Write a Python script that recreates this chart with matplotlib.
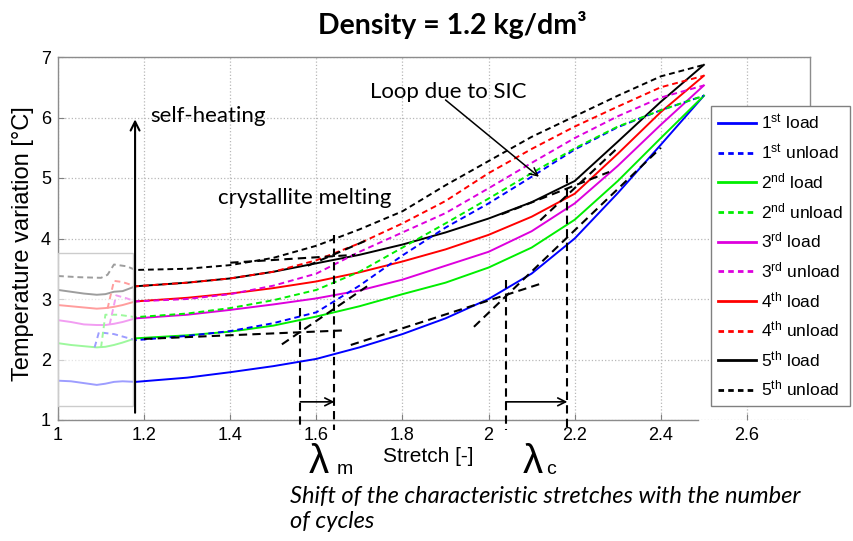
import numpy as np
import matplotlib
matplotlib.use("Agg")
import matplotlib.pyplot as plt
from matplotlib.patches import Rectangle
from matplotlib.lines import Line2D

plt.rcParams['font.family'] = ['Liberation Sans', 'DejaVu Sans']
plt.rcParams['mathtext.fontset'] = 'custom'
plt.rcParams['mathtext.rm'] = 'Liberation Sans'
plt.rcParams['mathtext.it'] = 'Liberation Sans:italic'

# ---------------- data ----------------
stretch_pre = [1.00, 1.03, 1.06, 1.09, 1.11, 1.13, 1.15]
stretch = [1.18, 1.3, 1.4, 1.5, 1.6, 1.7, 1.8, 1.9, 2.0, 2.1, 2.2, 2.3, 2.4, 2.5]

load1_pre = [1.65, 1.64, 1.61, 1.58, 1.60, 1.63, 1.64]
load2_pre = [2.27, 2.24, 2.22, 2.20, 2.21, 2.24, 2.28]
load3_pre = [2.65, 2.62, 2.58, 2.57, 2.57, 2.59, 2.62]
load4_pre = [2.90, 2.88, 2.86, 2.84, 2.85, 2.87, 2.90]
load5_pre = [3.15, 3.12, 3.09, 3.07, 3.08, 3.12, 3.13]

load1 = [1.63, 1.70, 1.79, 1.89, 2.01, 2.20, 2.42, 2.68, 3.00, 3.42, 4.00, 4.75, 5.55, 6.36]
load2 = [2.35, 2.40, 2.46, 2.56, 2.71, 2.88, 3.08, 3.27, 3.52, 3.85, 4.31, 4.95, 5.66, 6.36]
load3 = [2.68, 2.74, 2.82, 2.91, 3.01, 3.14, 3.32, 3.55, 3.78, 4.12, 4.58, 5.20, 5.88, 6.53]
load4 = [2.96, 3.02, 3.09, 3.18, 3.29, 3.44, 3.62, 3.82, 4.06, 4.36, 4.74, 5.40, 6.09, 6.69]
load5 = [3.21, 3.27, 3.34, 3.45, 3.59, 3.73, 3.90, 4.10, 4.33, 4.60, 4.95, 5.60, 6.26, 6.87]

unload1_pre_x = [1.085, 1.095, 1.13, 1.16]
unload1_pre = [2.20, 2.45, 2.42, 2.36]
unload2_pre_x = [1.10, 1.11, 1.14, 1.16]
unload2_pre = [2.20, 2.74, 2.74, 2.72]
unload3_pre_x = [1.12, 1.135, 1.16]
unload3_pre = [2.58, 3.06, 3.01]
unload4_pre_x = [1.115, 1.13, 1.15]
unload4_pre = [2.84, 3.30, 3.28]
unload5_pre_x = [1.00, 1.05, 1.10, 1.115, 1.13, 1.16]
unload5_pre = [3.38, 3.36, 3.35, 3.40, 3.57, 3.54]

unload1 = [2.32, 2.39, 2.47, 2.60, 2.78, 3.22, 3.72, 4.18, 4.58, 5.02, 5.47, 5.84, 6.12, 6.36]
unload2 = [2.70, 2.76, 2.85, 2.98, 3.15, 3.45, 3.85, 4.25, 4.66, 5.08, 5.49, 5.85, 6.12, 6.36]
unload3 = [2.96, 3.00, 3.08, 3.22, 3.42, 3.78, 4.10, 4.42, 4.83, 5.25, 5.66, 6.02, 6.33, 6.53]
unload4 = [3.21, 3.27, 3.34, 3.45, 3.64, 3.92, 4.25, 4.62, 5.08, 5.48, 5.85, 6.18, 6.50, 6.69]
unload5 = [3.48, 3.50, 3.56, 3.68, 3.88, 4.15, 4.45, 4.88, 5.28, 5.68, 6.02, 6.36, 6.68, 6.87]

cycle_colors = ['#0000ff', '#00ee00', '#dd00dd', '#ff0000', '#000000']
ordinals = ['st', 'nd', 'rd', 'th', 'th']

x_ticks = [1, 1.2, 1.4, 1.6, 1.8, 2, 2.2, 2.4, 2.6]
x_tick_labels = ['1', '1.2', '1.4', '1.6', '1.8', '2', '2.2', '2.4', '2.6']
y_ticks = [1, 2, 3, 4, 5, 6, 7]

# annotation guides (tangent lines and characteristic stretches)
tangents = [((1.20, 2.34), (1.66, 2.48)),
            ((1.52, 2.25), (1.72, 3.22)),
            ((1.40, 3.60), (1.69, 3.73)),
            ((1.58, 3.55), (1.72, 3.98)),
            ((1.68, 2.24), (2.12, 3.25)),
            ((1.966, 2.54), (2.40, 5.50)),
            ((2.03, 4.40), (2.28, 5.10)),
            ((2.12, 4.30), (2.30, 5.50))]
lam_m = [1.563, 1.642]
lam_m_top = [2.85, 4.06]
lam_c = [2.04, 2.183]
lam_c_top = [3.31, 5.05]

# ---------------- figure ----------------
W, H = 854, 541
fig = plt.figure(figsize=(W / 100, H / 100), dpi=100)
ax = fig.add_axes([58 / W, 1 - 420 / H, (810 - 58) / W, (420 - 57) / H])

loads = [(load1_pre, load1), (load2_pre, load2), (load3_pre, load3),
         (load4_pre, load4), (load5_pre, load5)]
unloads = [(unload1_pre_x, unload1_pre, unload1), (unload2_pre_x, unload2_pre, unload2),
           (unload3_pre_x, unload3_pre, unload3), (unload4_pre_x, unload4_pre, unload4),
           (unload5_pre_x, unload5_pre, unload5)]

lw = 1.4
for i in range(5):
    c = cycle_colors[i]
    lp, lm = loads[i]
    ax.plot(stretch_pre + stretch, lp + lm, color=c, lw=lw, solid_joinstyle='round', zorder=3)
for i in range(5):
    c = cycle_colors[i]
    ux, up, um = unloads[i]
    ax.plot(ux + stretch, up + um, color=c, lw=lw, dashes=(3, 2), zorder=3)

# faded pre-stretch box
ax.add_patch(Rectangle((1.0, 1.23), 0.174, 2.53, facecolor=(1, 1, 1, 0.62),
                       edgecolor='#cccccc', lw=1.0, zorder=4))

# tangent lines
for (p0, p1) in tangents:
    ax.plot([p0[0], p1[0]], [p0[1], p1[1]], color='black', lw=1.5,
            dashes=(4, 2.5), zorder=5)
for xv, yt in zip(lam_m + lam_c, lam_m_top + lam_c_top):
    ax.plot([xv, xv], [yt, 0.84], color='black', lw=1.5, dashes=(4, 2.5),
            zorder=5, clip_on=False)

arrow_kw = dict(arrowstyle='->', lw=1.2, color='black', shrinkA=0, shrinkB=0,
                mutation_scale=14)
ax.annotate('', xy=(lam_m[1], 1.30), xytext=(lam_m[0], 1.30), arrowprops=arrow_kw, zorder=6)
ax.annotate('', xy=(lam_c[1], 1.30), xytext=(lam_c[0], 1.30), arrowprops=arrow_kw, zorder=6)

# self-heating arrow
ax.annotate('', xy=(1.179, 5.97), xytext=(1.179, 1.12),
            arrowprops=dict(arrowstyle='->', lw=1.5, color='black', shrinkA=0,
                            shrinkB=0, mutation_scale=16),
            annotation_clip=False, zorder=6)
# SIC arrow
ax.annotate('', xy=(2.117, 5.02), xytext=(1.90, 6.29),
            arrowprops=dict(arrowstyle='->', lw=1.1, color='black', shrinkA=0,
                            shrinkB=0, mutation_scale=14), zorder=6)

ax.text(1.214, 6.02, 'self-heating', family='Lato', fontsize=16, va='center', ha='left')
ax.text(1.574, 4.67, 'crystallite melting', family='Lato', fontsize=16, va='center', ha='center')
ax.text(1.907, 6.42, 'Loop due to SIC', family='Lato', fontsize=16, va='center', ha='center')

# axes style
ax.set_xlim(1, 2.7465)
ax.set_ylim(1, 7)
ax.set_xticks(x_ticks)
ax.set_xticklabels(x_tick_labels)
ax.set_yticks(y_ticks)
ax.tick_params(labelsize=13, direction='in', length=4, color='#808080', pad=5)
ax.grid(True, linestyle=':', color='#b8b8b8', lw=0.9)
ax.set_axisbelow(True)
for s in ax.spines.values():
    s.set_color('#8c8c8c')
    s.set_linewidth(1.0)
ax.spines['bottom'].set_bounds(1, 2.486)
ax.spines['right'].set_bounds(6.0, 7)

ax.set_ylabel('Temperature variation [°C]', fontsize=17)
ax.yaxis.set_label_coords(-0.032, 0.485)
ax.set_xlabel('Stretch [-]', fontsize=15)
ax.xaxis.set_label_coords((428 - 58) / 752, -0.075)

# legend
handles = []
labels = []
for i in range(5):
    handles.append(Line2D([], [], color=cycle_colors[i], lw=2))
    labels.append('%d$^{\\mathrm{%s}}$ load' % (i + 1, ordinals[i]))
    handles.append(Line2D([], [], color=cycle_colors[i], lw=2, dashes=(2, 1.5)))
    labels.append('%d$^{\\mathrm{%s}}$ unload' % (i + 1, ordinals[i]))
leg = fig.legend(handles, labels, loc='upper left', bbox_to_anchor=(711 / W, 1 - 106 / H),
                 borderaxespad=0, fontsize=12.5, frameon=True, fancybox=False,
                 framealpha=1, edgecolor='#808080', handlelength=2.2, handletextpad=0.3,
                 labelspacing=0.56, borderpad=0.4)
leg.get_frame().set_linewidth(1.0)

# title and extra texts
fig.text(452 / W, 1 - 25 / H, 'Density = 1.2 kg/dm³', family='Lato', fontweight='bold',
         fontsize=20.5, ha='center', va='center')
fig.text(319 / W, 1 - 462 / H, 'λ', fontsize=29, ha='center', va='center')
fig.text(345 / W, 1 - 470 / H, 'm', fontsize=14, ha='center', va='center')
fig.text(533 / W, 1 - 462 / H, 'λ', fontsize=29, ha='center', va='center')
fig.text(551 / W, 1 - 470 / H, 'c', fontsize=14, ha='center', va='center')
fig.text(290 / W, 1 - 497 / H, 'Shift of the characteristic stretches with the number',
         family='Lato', style='italic', fontsize=17, ha='left', va='center')
fig.text(290 / W, 1 - 522 / H, 'of cycles', family='Lato', style='italic', fontsize=17,
         ha='left', va='center')

fig.savefig('out.png', dpi=100)
